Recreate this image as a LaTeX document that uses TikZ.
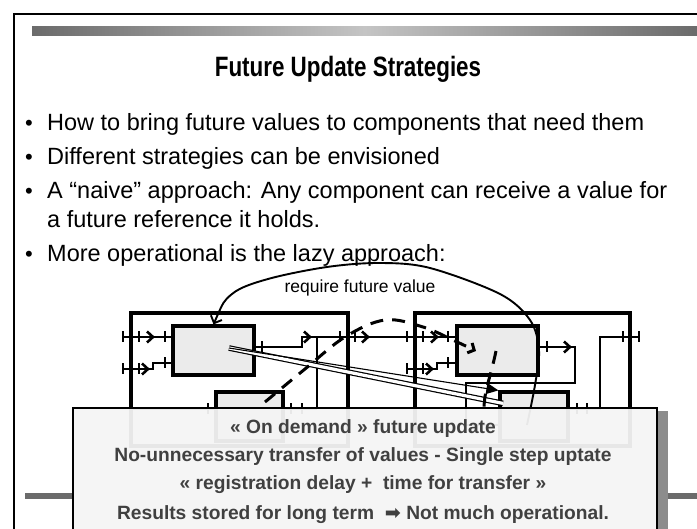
\documentclass[tikz,border=0pt]{standalone}
\usepackage{fontspec}
\setmainfont{Liberation Sans}
\newfontfamily\symfont{DejaVu Sans}
\usepackage{xcolor}
\usetikzlibrary{positioning}
\usetikzlibrary{arrows.meta}
\definecolor{compfill}{HTML}{EBEBEB}
\definecolor{notefill}{HTML}{F4F4F4}
\definecolor{notetext}{HTML}{404040}
\definecolor{bardark}{HTML}{6B6B6B}
\definecolor{barlight}{HTML}{C4C4C4}
\definecolor{shadowgrey}{HTML}{8C8C8C}
\newcommand{\porttick}[2]{ % Takes x coord, y coord of the tick
    \draw[line width=2.6pt] (#1,#2-5.5) -- (#1,#2+5.5);
}
\newcommand{\portchev}[2]{ % Takes x coord, y coord of the chevron tip
    \draw[line width=2.6pt, line join=miter] (#1-6,#2-5.5) -- (#1,#2) -- (#1-6,#2+5.5);
}

\begin{document}
\begin{tikzpicture}[x=1pt, y=-1pt,
        wire/.style={line width=2.8pt},
        modline/.style={line width=3.2pt},
        comp/.style={draw, line width=3.2pt, fill=compfill, minimum width=81pt, minimum height=49pt, inner sep=0pt},
        dashline/.style={line width=3pt, dash pattern=on 13pt off 9pt},
        bullettext/.style={anchor=base west, inner sep=0pt, font=\fontsize{23.5}{28}\selectfont},
        bulletdot/.style={anchor=base, inner sep=0pt, font=\fontsize{22}{26}\selectfont},
        noteline/.style={anchor=base, inner sep=0pt, text=notetext, font=\fontsize{19.2}{23}\selectfont\bfseries}]
        \useasboundingbox (0,0) rectangle (697,529);
        \clip (0,0) rectangle (697,529);

        % Slide frame and top bar
        \draw[line width=2pt] (14,540) -- (14,14) -- (710,14);
        \shade[left color=bardark, right color=bardark, middle color=barlight] (32,27) rectangle (697,36);

        % Title and bullets
        \node[anchor=base, inner sep=0pt, xscale=0.8, font=\fontsize{28}{32}\selectfont\bfseries] (title) at (348,77) {Future Update Strategies};
        \node[bulletdot] (dot1) at (29,131) {•};
        \node[bullettext] (item1) at (47,131) {How to bring future values to components that need them};
        \node[bulletdot] (dot2) at (29,165) {•};
        \node[bullettext] (item2) at (47,165) {Different strategies can be envisioned};
        \node[bulletdot] (dot3) at (29,199) {•};
        \node[bullettext] (item3) at (47,199) {A “naive” approach: Any component can receive a value for};
        \node[bullettext] (item3b) at (47,228) {a future reference it holds.};
        \node[bulletdot] (dot4) at (29,262) {•};
        \node[bullettext] (item4) at (47,262) {More operational is the lazy approach:};

        % Modules
        \draw[modline] (131,313) rectangle (348,446);
        \draw[modline] (415,313) rectangle (630,446);

        % Components
        \node[comp] (compA) at (213.5,350.5) {};
        \node[comp] (compB) at (497.5,350.5) {};
        \node[comp, minimum width=67pt] (compD) at (249.5,416.5) {};
        \node[comp, minimum width=68pt] (compC) at (534,416.5) {};

        % Inputs of compA
        \draw[wire] (123,337) -- (compA.west |- 0,337);
        \porttick{123}{337} \porttick{139}{337} \portchev{153}{337} \porttick{165}{337}
        \draw[wire] (123,369) -- (153,369) -- (153,363) -- (compA.west |- 0,363);
        \porttick{123}{369} \porttick{139}{369} \portchev{148}{369} \porttick{165}{363}

        % Wire from compA to compB
        \draw[wire] (compA.east |- 0,347) -- (302,347) -- (302,337) -- (compB.west |- 0,337);
        \porttick{262}{347} \portchev{310}{337} \porttick{340}{337} \porttick{355}{337}
        \portchev{368}{337} \porttick{407}{337} \porttick{423}{337} \portchev{437}{337} \porttick{448}{337}
        \draw[wire] (317,337) -- (317,409);

        % Second input of compB
        \draw[wire] (407,369) -- (437,369) -- (437,363) -- (compB.west |- 0,363);
        \porttick{407}{369} \porttick{423}{369} \portchev{432}{369} \porttick{448}{363}

        % Output of compB
        \draw[wire] (compB.east |- 0,347) -- (575,347) -- (575,383) -- (466,383) -- (466,425) -- (compC.west |- 0,425);
        \porttick{547}{347} \portchev{570}{347}

        % Outputs of the lower components
        \draw[wire] (compD.east |- 0,409) -- (317,409);
        \porttick{291}{409} \porttick{302}{409}
        \draw[wire] (131,409) -- (compD.west |- 0,409);
        \porttick{208}{409}
        \draw[wire] (compC.east |- 0,409) -- (600,409) -- (600,337) -- (639,337);
        \porttick{577}{409} \porttick{587}{409} \porttick{623}{337} \porttick{639}{337}

        % Value transfer (triple line)
        \draw[line width=5.6pt] (229,348) -- (503,403.4);
        \draw[line width=3.2pt, white] (229,348) -- (503,403.4);
        \draw[line width=1.1pt, -{Triangle[length=12pt,width=11pt]}] (229,348) -- (compC.north west);

        % Lazy path (dashed)
        \draw[dashline, -{Straight Barb[length=5pt,width=11pt]}] plot[smooth, tension=0.6] coordinates {(265,402) (305,369) (345,337) (385,320) (423,327) (455,341) (476,351)};
        \draw[dashline] (496,351) .. controls (490,380) and (484,390) .. (484,410);

        % Request for the future value
        \draw[line width=1.9pt, {Straight Barb[length=6pt,width=12pt]}-] plot[smooth, tension=0.55] coordinates {(compA.north) (232,294) (268,279) (327,267) (380,263) (430,268) (500,294) (530,320) (539,350) (535,385) (527,425)};
        \node[font=\fontsize{17.5}{21}\selectfont] (reqlabel) at (360,288) {require future value};

        % Note box
        \fill[shadowgrey] (656,411) rectangle (668,540);
        \fill[bardark] (25,493) rectangle (72,499);
        \fill[bardark] (668,493) rectangle (697,499);
        \node[draw, line width=1.6pt, fill=notefill, fill opacity=0.95, minimum width=584pt, minimum height=140pt, anchor=north west, inner sep=0pt] (note) at (72,407) {};
        \node[noteline] (note1) at (363,434) {« On demand » future update};
        \node[noteline] (note2) at (363,462) {No-unnecessary transfer of values - Single step uptate};
        \node[noteline] (note3) at (363,490) {« registration delay +\ \ time for transfer »};
        \node[noteline] (note4) at (363,520) {Results stored for long term\ \ {\symfont ➡} Not much operational.};
    \end{tikzpicture}
\end{document}
